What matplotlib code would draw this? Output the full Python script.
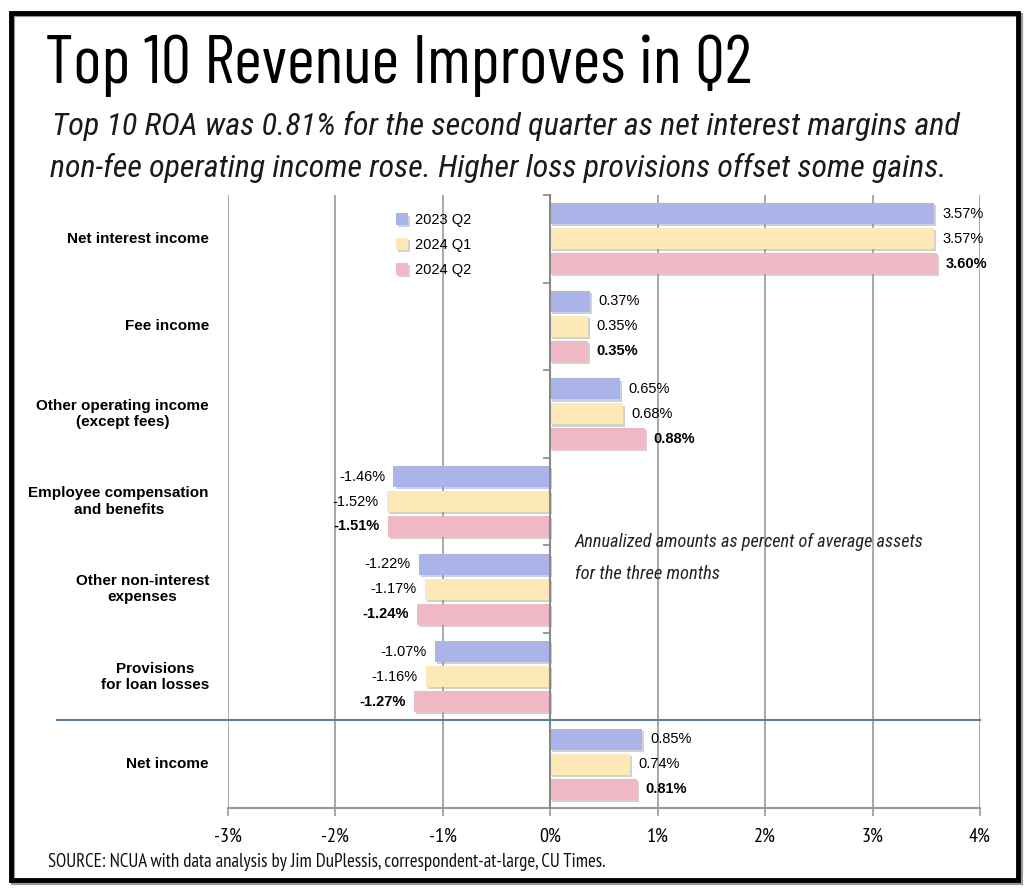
import matplotlib
matplotlib.use("Agg")
import matplotlib.pyplot as plt
import matplotlib.patheffects as pe
from matplotlib.patches import Rectangle
from matplotlib import font_manager
import numpy as np

categories = ["Net interest income", "Fee income", "Other operating income\n(except fees)",
              "Employee compensation\nand benefits", "Other non-interest\nexpenses",
              "Provisions\nfor loan losses", "Net income"]
series_names = ["2023 Q2", "2024 Q1", "2024 Q2"]
v_2023q2 = [3.57, 0.37, 0.65, -1.46, -1.22, -1.07, 0.85]
v_2024q1 = [3.57, 0.35, 0.68, -1.52, -1.17, -1.16, 0.74]
v_2024q2 = [3.60, 0.35, 0.88, -1.51, -1.24, -1.27, 0.81]
xticks = [-3, -2, -1, 0, 1, 2, 3, 4]
xtick_labels = ["-3%", "-2%", "-1%", "0%", "1%", "2%", "3%", "4%"]

colors = ["#aab4e8", "#fde8b8", "#f0b8c4"]

ttf = font_manager.fontManager.ttflist
def pick(prefs, italic=False):
    for p in prefs:
        for f in ttf:
            if f.name == p and (not italic or f.style == "italic"):
                return p
    return "DejaVu Sans"

narrow = pick(["Myriad Pro Condensed", "PT Sans Narrow", "Roboto Condensed", "Archivo Narrow",
               "Asap Condensed", "Liberation Sans Narrow"])
title_font = pick(["Myriad Pro Condensed", "Barlow Condensed", "Roboto Condensed", "PT Sans Narrow",
                   "Archivo Narrow"])
narrow_it = pick(["Myriad Pro Condensed", "Roboto Condensed", "Fira Sans Condensed", "Encode Sans Condensed",
                  "Barlow Semi Condensed", "Archivo Narrow", "Asap Condensed"], italic=True)
arial = "Liberation Sans"

fig = plt.figure(figsize=(10.24, 8.96), dpi=100)
W, H = 1024, 896
ax = fig.add_axes([228/W, 1-808/H, (980-228)/W, (808-195)/H])

series = [v_2023q2, v_2024q1, v_2024q2]
offsets = [-0.285, 0.0, 0.285]
y = np.arange(len(categories))
shadow = [pe.SimplePatchShadow(offset=(1.5, -1.5), shadow_rgbFace="#999999", alpha=0.45), pe.Normal()]
for i, (vals, off) in enumerate(zip(series, offsets)):
    bars = ax.barh(y + off, vals, height=0.24, color=colors[i], label=series_names[i], zorder=3)
    for b in bars:
        b.set_path_effects(shadow)
    for yy, v in zip(y + off, vals):
        txt = f"{v:.2f}%"
        wt = "bold" if i == 2 else "normal"
        if v >= 0:
            ax.annotate(txt, (v, yy), xytext=(6, 0), textcoords="offset points", ha="left", va="center",
                        fontsize=10.5, family=arial, fontweight=wt, zorder=4)
        else:
            ax.annotate(txt, (v, yy), xytext=(-6, 0), textcoords="offset points", ha="right", va="center",
                        fontsize=10.5, family=arial, fontweight=wt, zorder=4)

ax.set_xlim(-3, 4)
ax.set_ylim(len(categories) - 0.5, -0.5)
for s in ["top", "right"]:
    ax.spines[s].set_visible(False)
ax.spines["left"].set_position(("data", 0))
ax.spines["left"].set_color("#888888")
ax.spines["left"].set_linewidth(1.5)
ax.spines["left"].set_zorder(5)
ax.spines["bottom"].set_color("#999999")
ax.spines["bottom"].set_linewidth(1.5)
ax.set_yticks(np.arange(-0.5, len(categories)))
ax.set_yticklabels([])
ax.tick_params(axis="y", length=5, color="#888888", width=1.2)
ax.set_xticks(xticks)
ax.set_xticklabels(xtick_labels, family=narrow, fontsize=14.5)
ax.tick_params(axis="x", length=6, color="#999999", width=1.2, pad=8)
ax.xaxis.grid(True, color="#999999", linewidth=1.2, zorder=0)
ax.set_axisbelow(True)

# category labels
for yy, c in zip(y, categories):
    ax.text(-(228 - 209) / 752, yy, c, transform=ax.get_yaxis_transform(), ha="right", va="center",
            fontsize=11, fontweight="bold", family=arial, multialignment="center")

# separator line
ax.plot([-4.59, 4], [5.5, 5.5], color="#5b7f95", linewidth=1.5, clip_on=False, zorder=6)

leg = ax.legend(loc="upper left", bbox_to_anchor=(383/W, 1-200/H), bbox_transform=fig.transFigure,
                frameon=False, prop={"family": arial, "size": 10.5}, handlelength=0.8, handleheight=0.8,
                handletextpad=0.5, labelspacing=0.75)

texts_fit = []
def ftext(x, yb, s, target_w, **kw):
    t = fig.text(x/W, 1-yb/H, s, va="baseline", ha="left", **kw)
    texts_fit.append((t, target_w))
    return t

ftext(45, 83, "Top 10 Revenue Improves in Q2", 707, family=title_font, fontsize=60)
ftext(52, 135, "Top 10 ROA was 0.81% for the second quarter as net interest margins and", 910,
      family=narrow_it, style="italic", fontsize=28, color="#1a1a1a")
ftext(50, 177, "non-fee operating income rose. Higher loss provisions offset some gains.", 896,
      family=narrow_it, style="italic", fontsize=28, color="#1a1a1a")
ftext(575, 547, "Annualized amounts as percent of average assets", 350,
      family=narrow_it, style="italic", fontsize=14, color="#222222")
ftext(575, 579, "for the three months", 146,
      family=narrow_it, style="italic", fontsize=14, color="#222222")
ftext(48, 867, "SOURCE: NCUA with data analysis by Jim DuPlessis, correspondent-at-large, CU Times.", 555,
      family=narrow, fontsize=13, color="#111111")

fig.canvas.draw()
r = fig.canvas.get_renderer()
for t, tw in texts_fit:
    w = t.get_window_extent(r).width
    t.set_fontsize(t.get_fontsize() * tw / w)

fig.patches.append(Rectangle((13/W, 1-883/H), 1008/W, 868/H, transform=fig.transFigure,
                             fill=False, edgecolor="#999999", linewidth=3, zorder=0))
fig.patches.append(Rectangle((11/W, 1-880/H), 1007/W, 867/H, transform=fig.transFigure,
                             fill=False, edgecolor="black", linewidth=3.5))

fig.savefig("out.png", dpi=100)
